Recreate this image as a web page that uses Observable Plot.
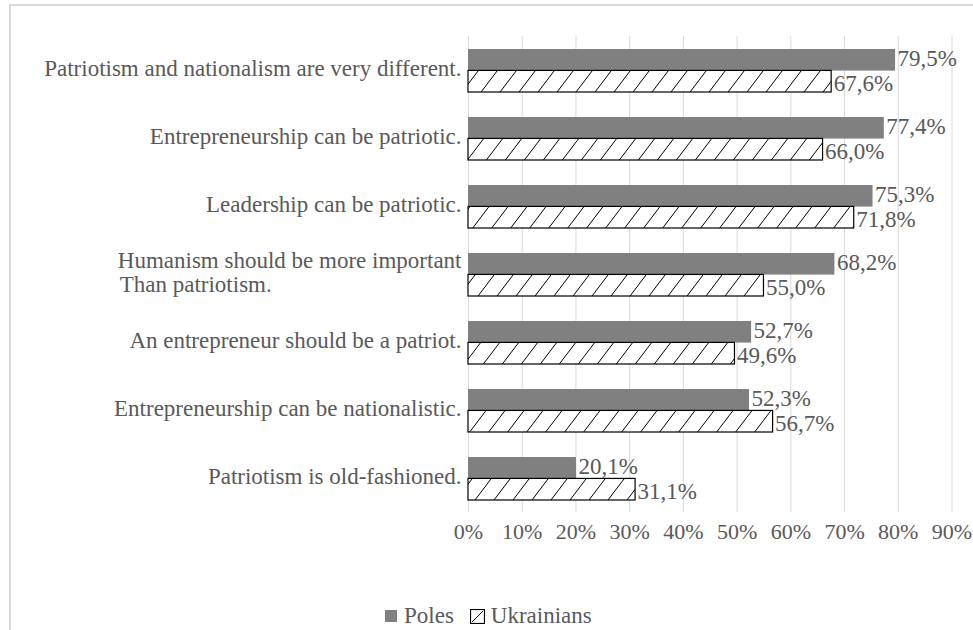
<!DOCTYPE html>
<html><head><meta charset="utf-8">
<script src="https://cdn.jsdelivr.net/npm/d3@7"></script>
<script src="https://cdn.jsdelivr.net/npm/@observablehq/plot@0.6"></script>
<style>
body{margin:0;background:#fff;font-family:"Liberation Serif","Times New Roman",serif;overflow:hidden;}
#frame{position:absolute;left:9px;top:4px;width:1200px;height:1000px;border-top:2px solid #d9d9d9;border-left:2px solid #d9d9d9;}
#chart{position:absolute;left:0;top:0;}
#legend{position:absolute;left:385px;top:603px;font-size:23px;line-height:26px;color:#595959;display:flex;align-items:center;white-space:nowrap;}
#legend .sw{display:inline-block;width:12px;height:12px;background:#808080;margin-right:7px;}
#legend svg{margin-right:6px;margin-left:16px;}
</style>
</head><body>
<div id="frame"></div>
<div id="chart"></div>
<div id="legend"><span class="sw"></span><span>Poles</span><svg width="15" height="15"><rect x="0.5" y="0.5" width="14" height="14" fill="#fff" stroke="#000" stroke-width="1.2"/><line x1="2" y1="13" x2="13" y2="2" stroke="#000" stroke-width="1"/></svg><span>Ukrainians</span></div>
<script>
const categories = [
  "Patriotism and nationalism are very different.",
  "Entrepreneurship can be patriotic.",
  "Leadership can be patriotic.",
  "Humanism should be more important\nThan patriotism.",
  "An entrepreneur should be a patriot.",
  "Entrepreneurship can be nationalistic.",
  "Patriotism is old-fashioned."
];
const series = ["Poles", "Ukrainians"];
const poles = [79.5, 77.4, 75.3, 68.2, 52.7, 52.3, 20.1];
const ukrainians = [67.6, 66.0, 71.8, 55.0, 49.6, 56.7, 31.1];
const xTicks = [0, 10, 20, 30, 40, 50, 60, 70, 80, 90];

const rows = [];
categories.forEach((c, i) => {
  rows.push({category: c, series: series[0], value: poles[i]});
  rows.push({category: c, series: series[1], value: ukrainians[i]});
});
const fmt = v => v.toFixed(1).replace(".", ",") + "%";

// left-align the two-line label as a block (pad second line with nbsp)
const ctx = document.createElement("canvas").getContext("2d");
ctx.font = '23px "Liberation Serif"';
function tickLabel(c) {
  if (!c.includes("\n")) return c;
  const [a, b] = c.split("\n");
  const n = Math.max(0, Math.round((ctx.measureText(a).width - ctx.measureText(b).width) / ctx.measureText("\u00a0").width));
  return a + "\n" + b + "\u00a0".repeat(n);
}

const half = 68 * 0.63 / 2;
const chart = Plot.plot({
  width: 973,
  height: 560,
  marginLeft: 468,
  marginRight: 21.5,
  marginTop: 36,
  marginBottom: 48,
  style: {fontFamily: '"Liberation Serif","Times New Roman",serif', fontSize: "23px", color: "#595959", background: "transparent", overflow: "visible"},
  x: {domain: [0, 90], label: null},
  y: {domain: categories, paddingInner: 0.37, paddingOuter: 0.185, label: null},
  marks: [
    Plot.gridX(xTicks, {stroke: "#d9d9d9", strokeOpacity: 1, strokeWidth: 1}),
    Plot.barX(rows.filter(d => d.series === "Poles"), {x: "value", y: "category", fill: "#808080", insetBottom: half}),
    Plot.barX(rows.filter(d => d.series === "Ukrainians"), {x: "value", y: "category", fill: "url(#hatch)", stroke: "#000", strokeWidth: 1.2, insetTop: half}),
    Plot.text(rows.filter(d => d.series === "Poles"), {x: "value", y: "category", text: d => fmt(d.value), textAnchor: "start", dx: 2, dy: -half / 2 - 1.5, fill: "#595959", fontSize: 23}),
    Plot.text(rows.filter(d => d.series === "Ukrainians"), {x: "value", y: "category", text: d => fmt(d.value), textAnchor: "start", dx: 2, dy: half / 2 + 1.5, fill: "#595959", fontSize: 23}),
    Plot.axisX(xTicks, {tickSize: 0, tickPadding: 11, tickFormat: d => d + "%", fontSize: 22, label: null}),
    Plot.axisY({tickSize: 0, tickPadding: 7, tickFormat: tickLabel, fontSize: 23, lineHeight: 1.04, dy: -3, label: null})
  ]
});
const defs = d3.select(chart).insert("defs", ":first-child");
const pat = defs.append("pattern").attr("id", "hatch").attr("patternUnits", "userSpaceOnUse")
  .attr("width", 19).attr("height", 25);
pat.append("rect").attr("width", 19).attr("height", 25).attr("fill", "#fff");
pat.append("path").attr("d", "M0,25L19,0M-2,2.6L2,-2.6M17,27.6L21,22.4").attr("stroke", "#000").attr("stroke-width", 1);
document.getElementById("chart").appendChild(chart);
</script>
</body></html>
